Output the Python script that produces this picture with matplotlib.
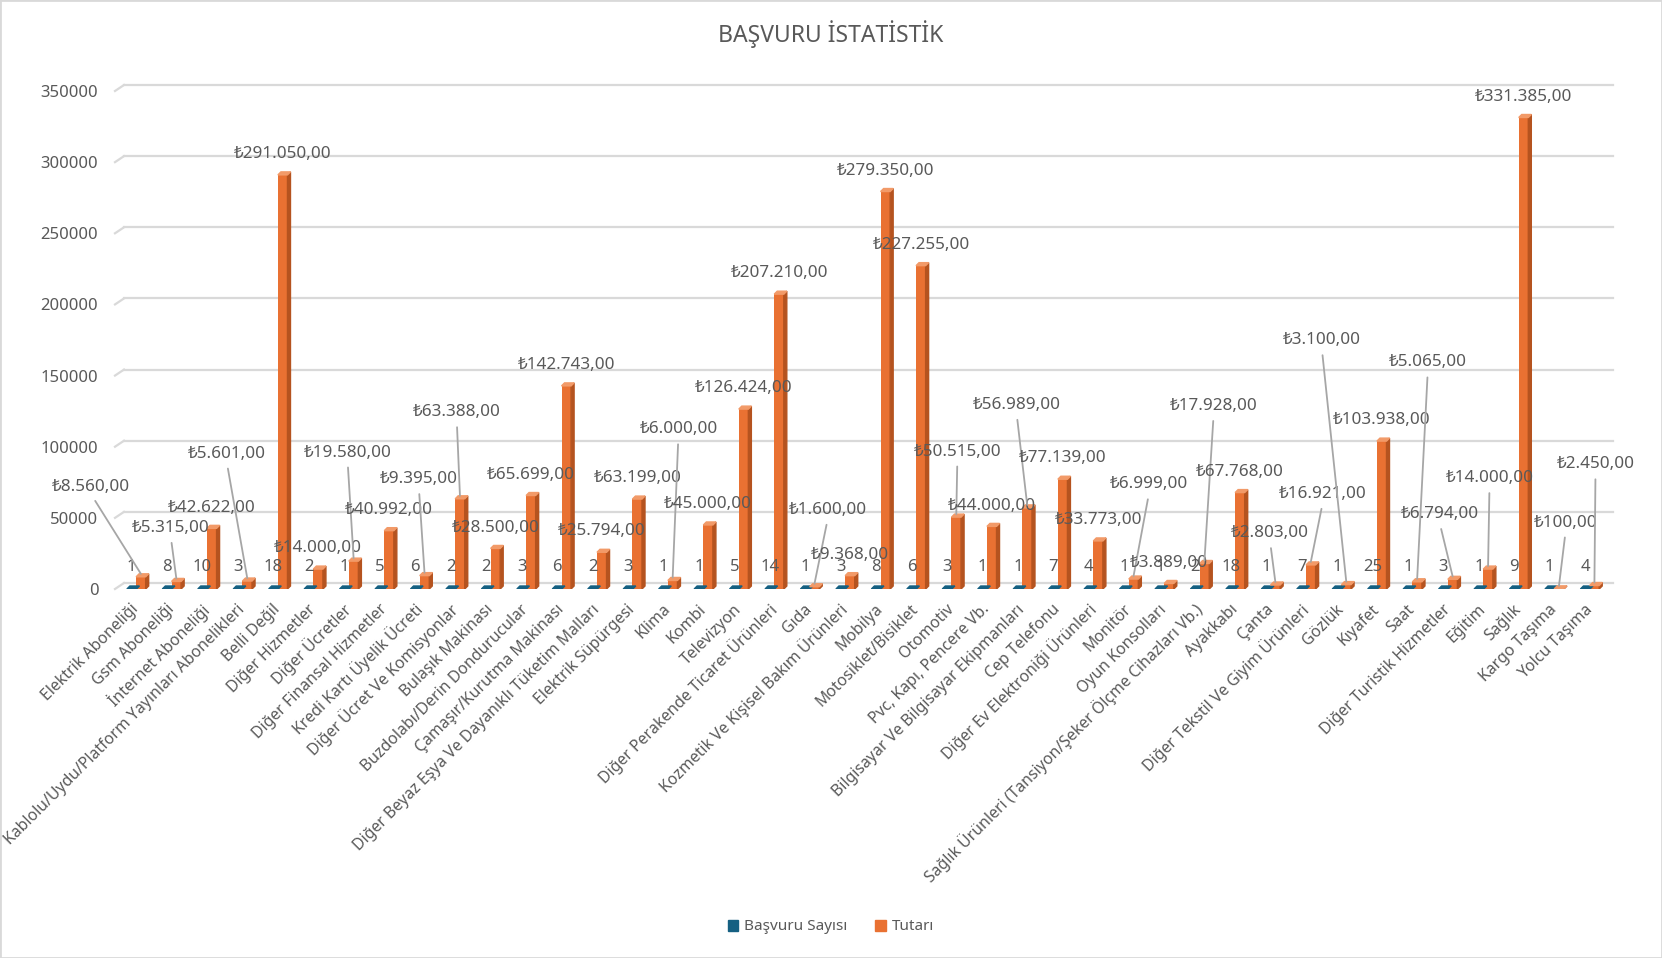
import numpy as np
import matplotlib.pyplot as plt
from matplotlib.patches import Polygon, Rectangle

plt.rcParams['font.family'] = ['Noto Sans', 'DejaVu Sans']

kategoriler = [
    'Elektrik Aboneliği', 'Gsm Aboneliği', 'İnternet Aboneliği',
    'Kablolu/Uydu/Platform Yayınları Abonelikleri', 'Belli Değil',
    'Diğer Hizmetler', 'Diğer Ücretler', 'Diğer Finansal Hizmetler',
    'Kredi Kartı Üyelik Ücreti', 'Diğer Ücret Ve Komisyonlar',
    'Bulaşık Makinası', 'Buzdolabı/Derin Dondurucular',
    'Çamaşır/Kurutma Makinası', 'Diğer Beyaz Eşya Ve Dayanıklı Tüketim Malları',
    'Elektrik Süpürgesi', 'Klima', 'Kombi', 'Televizyon',
    'Diğer Perakende Ticaret Ürünleri', 'Gıda',
    'Kozmetik Ve Kişisel Bakım Ürünleri', 'Mobilya', 'Motosiklet/Bisiklet',
    'Otomotiv', 'Pvc, Kapı, Pencere Vb.', 'Bilgisayar Ve Bilgisayar Ekipmanları',
    'Cep Telefonu', 'Diğer Ev Elektroniği Ürünleri', 'Monitör',
    'Oyun Konsolları', 'Sağlık Ürünleri (Tansiyon/Şeker Ölçme Cihazları Vb.)',
    'Ayakkabı', 'Çanta', 'Diğer Tekstil Ve Giyim Ürünleri', 'Gözlük',
    'Kıyafet', 'Saat', 'Diğer Turistik Hizmetler', 'Eğitim', 'Sağlık',
    'Kargo Taşıma', 'Yolcu Taşıma',
]
basvuru_sayisi = [1, 8, 10, 3, 18, 2, 1, 5, 6, 2, 2, 3, 6, 2, 3, 1, 1, 5, 14, 1,
                  3, 8, 6, 3, 1, 1, 7, 4, 1, 1, 2, 18, 1, 7, 1, 25, 1, 3, 1, 9,
                  1, 4]
tutar = [8560, 5315, 42622, 5601, 291050, 14000, 19580, 40992, 9395, 63388,
         28500, 65699, 142743, 25794, 63199, 6000, 45000, 126424, 207210, 1600,
         9368, 279350, 227255, 50515, 44000, 56989, 77139, 33773, 6999, 3889,
         17928, 67768, 2803, 16921, 3100, 103938, 5065, 6794, 14000, 331385,
         100, 2450]
y_ticks = [0, 50000, 100000, 150000, 200000, 250000, 300000, 350000]
seriler = ['Başvuru Sayısı', 'Tutarı']

# labels that Excel moved away from the bar (leader lines), data coords
tasinan_etiket = {
    0: (-1.27, 72000), 1: (0.97, 42900), 3: (2.55, 95100), 6: (5.96, 95900),
    8: (7.97, 77200), 9: (9.04, 124200), 15: (15.29, 112200), 19: (19.51, 55600),
    23: (23.16, 96600), 25: (24.83, 129400), 28: (28.57, 73500),
    30: (30.39, 128600), 32: (31.98, 39200), 33: (33.47, 66800),
    34: (33.44, 174800), 36: (36.43, 159200), 37: (36.76, 52600),
    38: (38.17, 77900), 40: (40.32, 46700), 41: (41.16, 87600),
}

MAVI = '#156082'
TURUNCU = '#E97132'
TURUNCU_YAN = '#B5531F'
TURUNCU_UST = '#F29A68'
GRI = '#595959'
IZGARA = '#D9D9D9'
LEADER = '#A6A6A6'


def tl(v):
    s = f'{v:,.2f}'.replace(',', '#').replace('.', ',').replace('#', '.')
    return '₺' + s


W, H, DPI = 1662, 958, 100
fig = plt.figure(figsize=(W / DPI, H / DPI), dpi=DPI)
ax = fig.add_axes([115 / W, 1 - 589 / H, 1489 / W, 498 / H])
x0, x1 = -0.6, 41.4
ax.set_xlim(x0, x1)
ax.set_ylim(0, 350000)
for s in ax.spines.values():
    s.set_visible(False)
ax.patch.set_visible(False)

px_x = (x1 - x0) / 1489
px_y = 350000 / 498

# back wall gridlines with the little 3d stub on the left
gx, gy = 9 * px_x, 6 * px_y
for t in y_ticks:
    ax.plot([x0, x0 + gx], [t, t + gy], color=IZGARA, lw=1.6, clip_on=False, zorder=1)
    ax.plot([x0 + gx, x1 + gx], [t + gy, t + gy], color=IZGARA, lw=1.6,
            clip_on=False, zorder=1)

x = np.arange(len(kategoriler))
w = 0.27
xb = x - 0.13
xo = x + 0.13
dx, dy = 3 * px_x, 3 * px_y

ax.bar(xb, basvuru_sayisi, w, color=MAVI, zorder=3)
ax.bar(xo, tutar, w, color=TURUNCU, zorder=3)

for xi, v in zip(xb, basvuru_sayisi):
    ust = [(xi - w / 2, v), (xi + w / 2, v), (xi + w / 2 + dx, v + dy), (xi - w / 2 + dx, v + dy)]
    ax.add_patch(Polygon(ust, closed=True, color=MAVI, zorder=3))

for xi, v in zip(xo, tutar):
    yan = [(xi + w / 2, 0), (xi + w / 2 + dx, dy), (xi + w / 2 + dx, v + dy), (xi + w / 2, v)]
    ust = [(xi - w / 2, v), (xi + w / 2, v), (xi + w / 2 + dx, v + dy), (xi - w / 2 + dx, v + dy)]
    ax.add_patch(Polygon(yan, closed=True, color=TURUNCU_YAN, zorder=3))
    ax.add_patch(Polygon(ust, closed=True, color=TURUNCU_UST, zorder=3))

# count labels
for xi, n in zip(xb, basvuru_sayisi):
    ax.annotate(str(n), (xi, n), xytext=(0, 16), textcoords='offset points',
                ha='center', va='center', fontsize=12, color=GRI, zorder=5)

# amount labels
for i, (xi, v) in enumerate(zip(xo, tutar)):
    if i in tasinan_etiket:
        ax.annotate(tl(v), (xi, v + dy), xytext=tasinan_etiket[i], textcoords='data',
                    ha='center', va='center', fontsize=12.3, color=GRI, zorder=6,
                    annotation_clip=False,
                    arrowprops=dict(arrowstyle='-', color=LEADER, lw=1.3,
                                    relpos=(0.5, 0), shrinkA=3, shrinkB=0))
    else:
        ax.annotate(tl(v), (xi, v), xytext=(0, 15), textcoords='offset points',
                    ha='center', va='center', fontsize=12.3, color=GRI, zorder=6)

ax.set_yticks(y_ticks)
ax.set_yticklabels([str(t) for t in y_ticks])
ax.tick_params(axis='y', length=0, pad=12, labelsize=12, labelcolor=GRI)

ax.set_xticks(x)
ax.set_xticklabels(kategoriler, rotation=45, ha='right', va='center',
                   rotation_mode='anchor', fontsize=11.4, color=GRI)
ax.tick_params(axis='x', length=0, pad=13)

fig.text(0.5, 1 - 34 / H, 'BAŞVURU İSTATİSTİK', ha='center', va='center',
         fontsize=16.5, color=GRI)

handles = [Rectangle((0, 0), 1, 1, color=MAVI), Rectangle((0, 0), 1, 1, color=TURUNCU)]
fig.legend(handles, seriler, loc='center', bbox_to_anchor=(0.5, 1 - 927 / H),
           ncol=2, frameon=False, fontsize=11, labelcolor=GRI,
           handlelength=0.7, handleheight=0.7, handletextpad=0.4, columnspacing=1.8)

fig.add_artist(Rectangle((0, 0), 1, 1, transform=fig.transFigure, fill=False,
                         edgecolor=IZGARA, lw=2))

fig.savefig('out.png', dpi=DPI)
